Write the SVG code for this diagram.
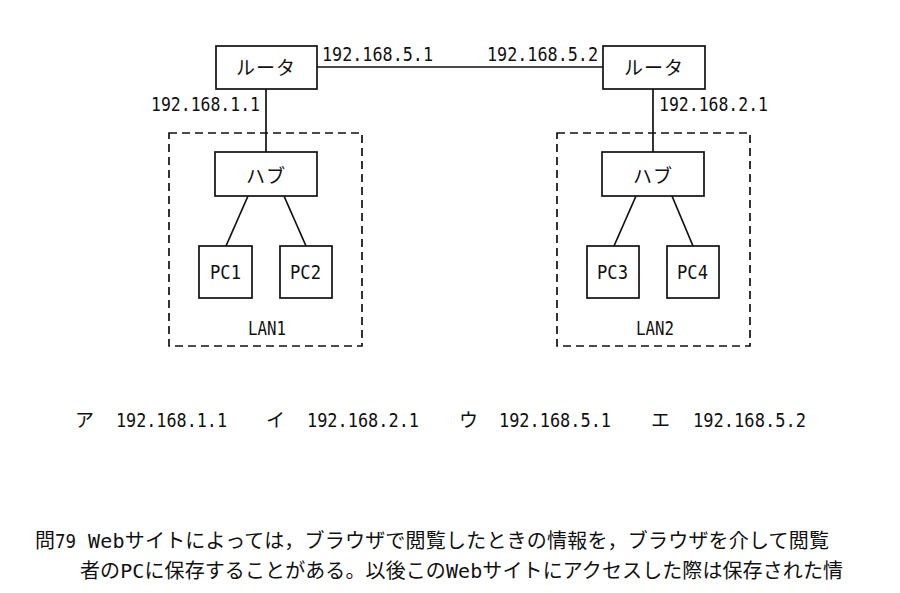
<svg xmlns="http://www.w3.org/2000/svg" width="900" height="593" viewBox="0 0 900 593">
<style>
.box{fill:#fff;stroke:#111;stroke-width:1.7}
.lan{fill:none;stroke:#111;stroke-width:1.7;stroke-dasharray:8 5}
.wire{stroke:#111;stroke-width:1.7;fill:none}
.jp{font-family:"Noto Sans CJK JP",sans-serif;font-size:19px;fill:#111}
.num{font-family:"DejaVu Sans Mono","Noto Sans CJK JP",monospace;font-size:19px;fill:#111}
.para{font-family:"DejaVu Sans Mono","Noto Sans CJK JP",monospace;font-size:20px;fill:#111}
</style>
<rect width="900" height="593" fill="#fff"/>
<g id="connectors">
<line class="wire" x1="317" y1="67" x2="603" y2="67"/>
<line class="wire" x1="266" y1="89" x2="266" y2="152"/>
<line class="wire" x1="653" y1="89" x2="653" y2="152"/>
<line class="wire" x1="248" y1="196" x2="226" y2="246"/>
<line class="wire" x1="284" y1="196" x2="306" y2="246"/>
<line class="wire" x1="636" y1="196" x2="614" y2="246"/>
<line class="wire" x1="672" y1="196" x2="693" y2="246"/>
</g>
<g id="lan1">
<rect class="lan" x="169" y="133" width="193" height="213"/>
<text class="num" x="248" y="335" textLength="38" lengthAdjust="spacingAndGlyphs">LAN1</text>
</g>
<g id="lan2">
<rect class="lan" x="557" y="133" width="193" height="213"/>
<text class="num" x="636" y="335" textLength="38" lengthAdjust="spacingAndGlyphs">LAN2</text>
</g>
<g id="router1">
<rect class="box" x="216" y="46" width="101" height="43"/>
<text class="jp" x="266" y="75" text-anchor="middle" letter-spacing="1">ルータ</text>
</g>
<g id="router2">
<rect class="box" x="603" y="46" width="102" height="43"/>
<text class="jp" x="654" y="75" text-anchor="middle" letter-spacing="1">ルータ</text>
</g>
<g id="hub1">
<rect class="box" x="215" y="152" width="102" height="44"/>
<text class="jp" x="266" y="183" text-anchor="middle" letter-spacing="1">ハブ</text>
</g>
<g id="hub2">
<rect class="box" x="602" y="152" width="102" height="44"/>
<text class="jp" x="653" y="183" text-anchor="middle" letter-spacing="1">ハブ</text>
</g>
<g id="pc1">
<rect class="box" x="199" y="246" width="53" height="52"/>
<text class="num" x="210" y="279" textLength="31" lengthAdjust="spacingAndGlyphs">PC1</text>
</g>
<g id="pc2">
<rect class="box" x="280" y="246" width="52" height="52"/>
<text class="num" x="290" y="279" textLength="31" lengthAdjust="spacingAndGlyphs">PC2</text>
</g>
<g id="pc3">
<rect class="box" x="587" y="246" width="52" height="52"/>
<text class="num" x="597" y="279" textLength="31" lengthAdjust="spacingAndGlyphs">PC3</text>
</g>
<g id="pc4">
<rect class="box" x="667" y="246" width="52" height="52"/>
<text class="num" x="677" y="279" textLength="31" lengthAdjust="spacingAndGlyphs">PC4</text>
</g>
<g id="addresses">
<text class="num" x="322" y="61" textLength="111" lengthAdjust="spacingAndGlyphs">192.168.5.1</text>
<text class="num" x="487" y="61" textLength="111" lengthAdjust="spacingAndGlyphs">192.168.5.2</text>
<text class="num" x="151" y="111" textLength="109" lengthAdjust="spacingAndGlyphs">192.168.1.1</text>
<text class="num" x="659" y="111" textLength="109" lengthAdjust="spacingAndGlyphs">192.168.2.1</text>
</g>
<g id="choices">
<text class="jp" x="75" y="427">ア</text>
<text class="num" x="116" y="427" textLength="111" lengthAdjust="spacingAndGlyphs">192.168.1.1</text>
<text class="jp" x="266" y="427">イ</text>
<text class="num" x="307" y="427" textLength="112" lengthAdjust="spacingAndGlyphs">192.168.2.1</text>
<text class="jp" x="459" y="427">ウ</text>
<text class="num" x="499" y="427" textLength="112" lengthAdjust="spacingAndGlyphs">192.168.5.1</text>
<text class="jp" x="651" y="427">エ</text>
<text class="num" x="693" y="427" textLength="113" lengthAdjust="spacingAndGlyphs">192.168.5.2</text>
</g>
<g id="question">
<text class="para" x="35" y="548">問<tspan textLength="21" lengthAdjust="spacingAndGlyphs">79</tspan></text>
<text class="para" x="88" y="548" textLength="741" lengthAdjust="spacing">Webサイトによっては，ブラウザで閲覧したときの情報を，ブラウザを介して閲覧</text>
<text class="para" x="80" y="578" textLength="763" lengthAdjust="spacing">者のPCに保存することがある。以後このWebサイトにアクセスした際は保存された情</text>
</g>
</svg>
